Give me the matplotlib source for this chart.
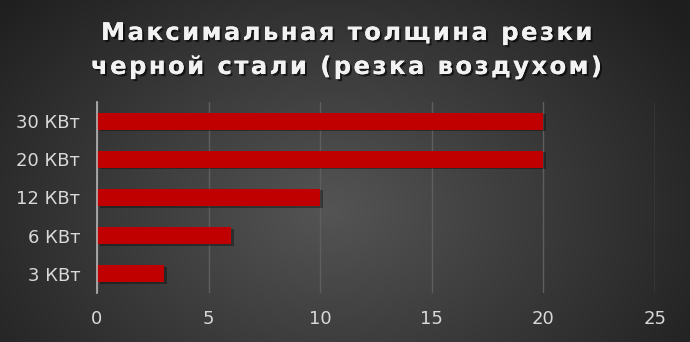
import numpy as np
import matplotlib
matplotlib.use("Agg")
import matplotlib.pyplot as plt
import matplotlib.patheffects as pe

categories = ["3 КВт", "6 КВт", "12 КВт", "20 КВт", "30 КВт"]
values = [3, 6, 10, 20, 20]
xticks = [0, 5, 10, 15, 20, 25]
title_lines = ["Максимальная толщина резки", "черной стали (резка воздухом)"]

W, H = 690, 342
fig = plt.figure(figsize=(W / 100, H / 100), dpi=100)

# radial gradient background
bg = fig.add_axes([0, 0, 1, 1])
yy, xx = np.mgrid[0:H, 0:W]
r = np.sqrt(((xx - 330) / 420.0) ** 2 + ((yy - 210) / 300.0) ** 2)
v = np.clip(0.33 - 0.20 * r, 0.12, 0.34)
img = np.dstack([v, v, v])
bg.imshow(img, aspect="auto", extent=[0, 1, 0, 1], origin="upper")
bg.axis("off")

ax = fig.add_axes([97 / W, 1 - 293 / H, (655 - 97) / W, (293 - 102) / H])
ax.patch.set_alpha(0)
ypos = np.arange(len(categories))
# shadow
ax.barh(ypos - 0.04, values, height=0.45, left=0.12, color="black", alpha=0.35, zorder=2)
ax.barh(ypos, values, height=0.45, color="#c00000", zorder=3)

ax.set_xlim(0, 25)
ax.set_ylim(-0.5, 4.5)
ax.set_xticks(xticks)
ax.set_yticks(ypos)
ax.set_yticklabels(categories)
ax.grid(axis="x", color="#5e5e5e", linewidth=1, zorder=1)
ax.set_axisbelow(True)
for s in ["top", "right", "bottom"]:
    ax.spines[s].set_visible(False)
ax.spines["left"].set_color("#b5b5b5")
ax.spines["left"].set_linewidth(1.2)
ax.spines["left"].set_zorder(4)
ax.tick_params(axis="both", length=0, colors="#d9d9d9", labelsize=13)
ax.tick_params(axis="x", pad=12)
ax.tick_params(axis="y", pad=12)

hs = "\u200a"
for i, line in enumerate(title_lines):
    spaced = hs.join(line)
    fig.text(0.5, 1 - (33 + 34 * i) / H, spaced, ha="center", va="center", color="#f2f2f2",
             fontsize=17.5, fontweight="bold", family="DejaVu Sans",
             path_effects=[pe.withSimplePatchShadow(offset=(1.5, -1.5), shadow_rgbFace="black", alpha=0.6), pe.Normal()])

fig.savefig("out.png", dpi=100)
